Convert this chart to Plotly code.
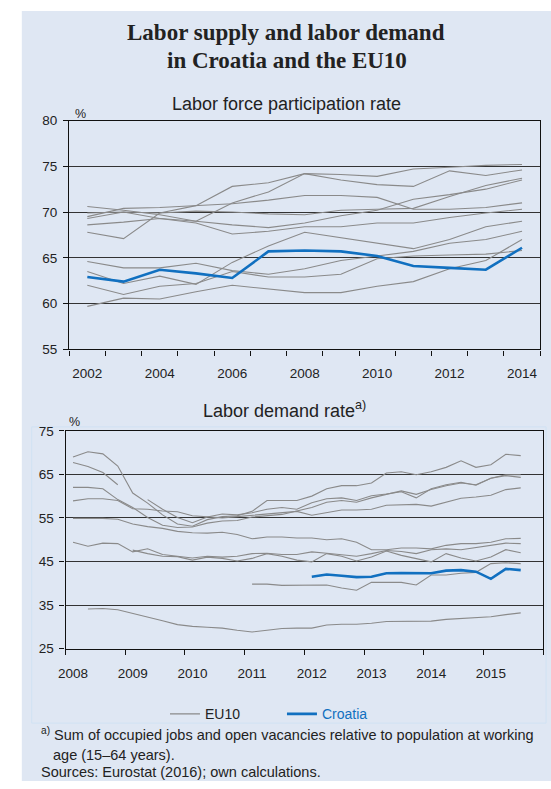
import plotly.graph_objects as go

# Full-window figure; the page's default body margin is removed after drawing.
W, H = 551, 789

# ---------------- data: labor force participation rate (annual) ----------------
years = list(range(2002, 2015))
lfp_croatia = [62.9, 62.4, 63.7, 63.3, 62.8, 65.7, 65.8, 65.7, 65.2, 64.1, 63.9, 63.7, 66.1]
lfp_eu_a = [69.5, 70.4, 70.5, 70.7, 70.9, 71.3, 71.8, 71.8, 71.6, 70.3, 70.3, 70.5, 71.0]
lfp_eu_b = [67.8, 67.1, 69.9, 70.7, 72.8, 73.2, 74.2, 74.1, 73.9, 74.7, 74.9, 75.1, 75.2]
lfp_eu_c = [70.6, 70.2, 69.7, 69.0, 71.0, 72.2, 74.2, 73.5, 73.0, 72.8, 74.5, 74.0, 74.6]
lfp_eu_d = [69.9, 70.0, 69.9, 70.1, 70.0, 69.8, 69.7, 70.2, 70.3, 70.4, 71.7, 72.9, 73.7]
lfp_eu_e = [69.3, 70.0, 69.3, 68.8, 67.6, 67.9, 68.4, 68.4, 68.8, 68.8, 69.4, 69.9, 70.3]
lfp_eu_f = [68.6, 68.9, 69.3, 69.0, 68.6, 68.3, 68.8, 69.6, 70.2, 71.4, 71.9, 72.5, 73.5]
lfp_eu_g = [64.6, 63.9, 63.9, 64.4, 63.6, 63.2, 63.8, 64.7, 65.2, 65.7, 66.6, 67.0, 67.9]
lfp_eu_h = [63.5, 62.2, 63.0, 62.1, 64.5, 66.3, 67.8, 67.2, 66.6, 66.0, 67.0, 68.4, 69.0]
lfp_eu_i = [62.0, 61.0, 61.9, 62.2, 63.5, 62.9, 62.9, 63.2, 64.9, 65.2, 65.3, 65.4, 65.8]
lfp_eu_j = [59.7, 60.6, 60.5, 61.3, 62.0, 61.6, 61.2, 61.2, 61.9, 62.4, 63.8, 64.7, 67.0]
lfp_eu = [lfp_eu_a, lfp_eu_b, lfp_eu_c, lfp_eu_d, lfp_eu_e,
          lfp_eu_f, lfp_eu_g, lfp_eu_h, lfp_eu_i, lfp_eu_j]
top_tick_years = [2002, 2004, 2006, 2008, 2010, 2012, 2014]
top_tick_labels = ["2002", "2004", "2006", "2008", "2010", "2012", "2014"]

# ---------------- data: labor demand rate (quarterly, 2008Q1-2015Q3) ----------------
quarters = [f"{y}Q{q}" for y in range(2008, 2016) for q in range(1, 5)][:31]
N = None
dem_croatia = [N] * 16 + [41.5, 42.0, 41.7, 41.4, 41.5, 42.3, 42.35, 42.3, 42.3, 42.9,
                          43.0, 42.65, 41.0, 43.3, 43.0]
dem_eu_1 = [69.0, 70.2, 69.7, 66.9, 60.7, 58.4, 55.7, 53.6, 53.1, 54.6, 55.3, 55.5, 56.5,
            59.0, 59.0, 59.0, 60.0, 61.7, 62.4, 62.4, 63.0, 65.3, 65.6, 64.9, 65.6, 66.6,
            68.1, 66.6, 67.2, 69.6, 69.3]
dem_eu_2a = [67.7, 66.8, 65.4, 62.6] + [N] * 27
dem_eu_2b = [N] * 5 + [59.2, 57.0, 55.1, 53.9, 55.2, 55.9, 55.7, 56.2, 57.0, 57.4, 57.0,
                       58.5, 59.4, 59.6, 59.0, 60.1, 60.5, 61.0, 59.6, 61.7, 62.6, 63.2,
                       62.5, 64.1, 64.7, 64.3]
dem_eu_3 = [62.0, 62.0, 61.7, 59.2, 57.4, 55.1, 53.3, 52.8, 52.9, 53.8, 54.3, 54.4, 55.2,
            55.5, 55.8, 56.6, 57.4, 58.6, 59.0, 58.6, 59.6, 60.4, 61.2, 60.4, 61.5, 62.4,
            63.0, 62.6, 64.1, 64.9, 64.9]
dem_eu_4 = [58.9, 59.4, 59.4, 59.0, 57.1, 57.0, 56.6, 56.4, 55.5, 55.2, 55.0, 55.3, 55.6,
            56.0, 56.3, 56.5, 55.6, 56.2, 56.8, 56.8, 57.0, 57.9, 58.0, 58.1, 57.7, 58.6,
            59.5, 59.8, 60.2, 61.5, 61.9]
dem_eu_5 = [54.9, 54.9, 54.9, 54.7, 53.6, 53.0, 52.6, 51.9, 51.6, 51.5, 51.7, 51.2, 50.2,
            50.6, 50.6, 50.4, 50.4, 50.0, 50.2, 49.4, 47.7, 47.7, 48.1, 48.1, 47.9, 48.7,
            49.1, 49.1, 49.4, 50.2, 50.3]
dem_eu_6 = [49.4, 48.5, 49.2, 49.1, 47.2, 47.9, 46.6, 46.2, 45.8, 46.2, 46.0, 46.2, 46.8,
            46.9, 46.6, 46.6, 47.2, 46.9, 46.6, 46.2, 46.8, 47.5, 47.3, 46.8, 47.7, 47.9,
            47.7, 48.2, 48.7, 49.2, 49.1]
dem_eu_7 = [N] * 4 + [47.6, 46.8, 46.2, 46.1, 45.3, 46.0, 45.7, 45.1, 45.7, 46.8, 46.2,
                      45.3, 44.9, 46.8, 46.2, 45.1, 46.0, 47.4, 46.4, 45.7, 44.9, 46.8,
                      45.8, 45.1, 46.0, 47.7, 47.0]
dem_eu_8 = [N] * 12 + [39.8, 39.8, 39.5, 39.5, 39.6, 39.6, 38.9, 38.4, 40.2, 40.2, 40.2,
                       39.6, 41.9, 41.9, 42.3, 42.5, 44.5, 44.7, 44.5]
dem_eu_9 = [N, 34.1, 34.2, 33.9, 33.1, 32.3, 31.4, 30.5, 30.1, 29.9, 29.7, 29.2, 28.8,
            29.2, 29.6, 29.7, 29.7, 30.4, 30.6, 30.6, 30.8, 31.2, 31.2, 31.2, 31.3, 31.7,
            31.9, 32.1, 32.3, 32.8, 33.2]
dem_eu = [dem_eu_1, dem_eu_2a, dem_eu_2b, dem_eu_3, dem_eu_4, dem_eu_5,
          dem_eu_6, dem_eu_7, dem_eu_8, dem_eu_9]
bottom_tick_labels = [str(y) for y in range(2008, 2016)]

# ---------------- styling ----------------
GRAY = "#8a8a8a"
BLUE = "#1170c0"
BG = "#dfe7f3"
TXT = "#222222"
AX = "#111111"
FONT = "Liberation Sans, Arial, sans-serif"
SERIF = "Liberation Serif, Times New Roman, serif"


def px(x):
    return x / W


def py(y):
    return 1 - y / H


def qpos(q):
    y, n = int(q[:4]), int(q[-1])
    return y + (n - 1) / 4 + 0.125


qx = [qpos(q) for q in quarters]

fig = go.Figure()

for i, s in enumerate(lfp_eu):
    fig.add_trace(go.Scatter(x=years, y=s, mode="lines", xaxis="x", yaxis="y",
                             line=dict(color=GRAY, width=1.1), legendgroup="eu",
                             name="EU10", showlegend=(i == 0), hoverinfo="skip"))
fig.add_trace(go.Scatter(x=years, y=lfp_croatia, mode="lines", xaxis="x", yaxis="y",
                         line=dict(color=BLUE, width=2.6), legendgroup="hr",
                         name=f"<span style='color:{BLUE}'>Croatia</span>",
                         showlegend=True))

for s in dem_eu:
    fig.add_trace(go.Scatter(x=qx, y=s, mode="lines", xaxis="x2", yaxis="y2",
                             line=dict(color=GRAY, width=1.1), legendgroup="eu",
                             showlegend=False, connectgaps=False, hoverinfo="skip"))
fig.add_trace(go.Scatter(x=qx, y=dem_croatia, mode="lines", xaxis="x2", yaxis="y2",
                         line=dict(color=BLUE, width=2.6), legendgroup="hr",
                         showlegend=False))

axis_common = dict(showline=True, mirror=True, linecolor=AX, linewidth=1.3,
                   tickfont=dict(family=FONT, size=13.5, color=TXT), zeroline=False)

fig.update_layout(
    width=W, height=H,
    margin=dict(l=0, r=0, t=0, b=0),
    paper_bgcolor="white",
    plot_bgcolor="white",
    font=dict(family=FONT, color=TXT),
    xaxis=dict(domain=[px(63), px(540)], anchor="y", range=[2001.5, 2014.5],
               tickmode="array", tickvals=top_tick_years,
               ticktext=top_tick_labels, ticks="", showgrid=False, ticklabelstandoff=11,
               minor=dict(tickmode="array", tickvals=[2001.5 + i for i in range(14)],
                          ticks="outside", ticklen=5, tickcolor=AX, tickwidth=1.3,
                          showgrid=False),
               **axis_common),
    yaxis=dict(domain=[py(349), py(115.7)], anchor="x", range=[55, 80], dtick=5,
               tickmode="linear", tick0=55, ticks="outside", ticklen=5,
               tickcolor=AX, tickwidth=1.3, showgrid=True, ticklabelstandoff=3,
               gridcolor="#333333", gridwidth=1.2, **axis_common),
    xaxis2=dict(domain=[px(59.3), px(543)], anchor="y2", range=[2008, 2016],
                tickmode="array", tickvals=[y + 0.125 for y in range(2008, 2016)],
                ticktext=bottom_tick_labels, ticks="", showgrid=False, ticklabelstandoff=12,
                minor=dict(tickmode="array", tickvals=list(range(2008, 2017)),
                           ticks="outside", ticklen=5, tickcolor=AX, tickwidth=1.3,
                           showgrid=False),
                **axis_common),
    yaxis2=dict(domain=[py(654), py(432)], anchor="x2", range=[25, 75], dtick=10,
                tickmode="linear", tick0=25, ticks="outside", ticklen=5,
                tickcolor=AX, tickwidth=1.3, showgrid=True, ticklabelstandoff=3,
                gridcolor="#333333", gridwidth=1.2, **axis_common),
    legend=dict(orientation="h", x=px(160), y=py(721), xanchor="left", yanchor="middle",
                bgcolor="rgba(0,0,0,0)", font=dict(family=FONT, size=14, color=TXT),
                itemwidth=30, entrywidth=72, entrywidthmode="pixels", tracegroupgap=0),
    showlegend=True,
)

shapes = [
    dict(type="rect", xref="paper", yref="paper", x0=px(15), x1=1, y0=0, y1=py(4),
         fillcolor=BG, line=dict(width=0), layer="below"),
    dict(type="rect", xref="paper", yref="paper", x0=px(25), x1=px(546), y0=py(730),
         y1=py(428), fillcolor="rgba(0,0,0,0)", line=dict(color="#d0e2f3", width=1),
         layer="below"),
]
fig.update_layout(shapes=shapes)

ann = []


def add_text(text, x, y, size, xanchor="center", family=FONT, color=TXT):
    ann.append(dict(text=text, x=px(x), y=py(y), xref="paper", yref="paper",
                    xanchor=xanchor, yanchor="middle", showarrow=False,
                    font=dict(family=family, size=size, color=color)))


add_text("<b>Labor supply and labor demand</b>", 283, 26, 23, family=SERIF)
add_text("<b>in Croatia and the EU10</b>", 284, 55, 23, family=SERIF)
add_text("Labor force participation rate", 283, 99, 18)
add_text("%", 74, 109, 12.5)
add_text("Labor demand rate<sup>a)</sup>", 281, 410, 18)
add_text("%", 68, 423, 12.5)
add_text("<sup>a)</sup> Sum of occupied jobs and open vacancies relative to population at working",
         32, 741, 14.5, xanchor="left")
add_text("age (15–64 years).", 45, 763, 14.5, xanchor="left")
add_text("Sources: Eurostat (2016); own calculations.", 32, 780, 14.5, xanchor="left")
fig.update_layout(annotations=ann)

fig.write_html("out.html", config={"displayModeBar": False},
               post_script="document.body.style.margin='0';")
